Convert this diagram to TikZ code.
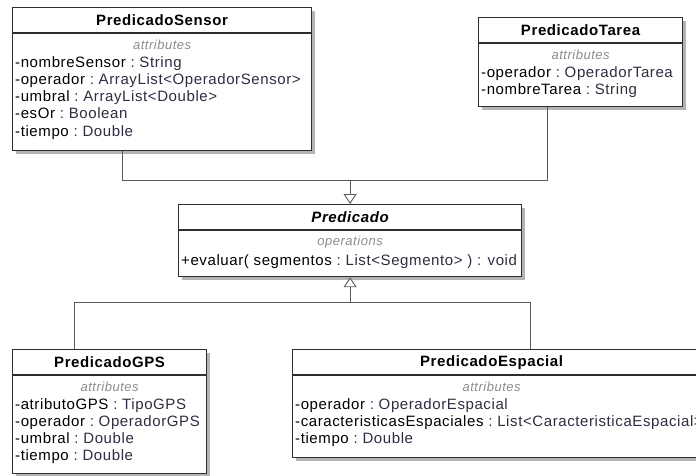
\documentclass[tikz,border=0pt]{standalone}
\usepackage{fontspec}
\setmainfont{Liberation Sans}[LetterSpace=4]
\usetikzlibrary{arrows.meta,shadows}
\definecolor{boxline}{HTML}{2E2E2E}
\definecolor{linkline}{HTML}{5A5A5A}
\definecolor{typec}{HTML}{2E2E42}
\definecolor{stereo}{HTML}{8C8C8C}
\definecolor{shadowc}{HTML}{B4B4B4}

% attribute: name, then " : type" in the type colour
\newcommand{\attr}[2]{#1\ \textcolor{typec}{:\ #2}}

\tikzset{
  classbox/.style={draw=boxline, line width=1.2pt, fill=white, rectangle,
    inner sep=0pt, anchor=north west,
    drop shadow={shadow xshift=3pt, shadow yshift=-3pt, fill=shadowc, opacity=1}},
  divider/.style={draw=boxline, line width=1.1pt},
  classname/.style={font=\fontsize{15}{17}\selectfont\bfseries, inner sep=0pt},
  absname/.style={font=\fontsize{15}{17}\selectfont\bfseries\itshape, inner sep=0pt},
  stereotype/.style={font=\fontsize{13}{15}\selectfont\itshape, text=stereo, inner sep=0pt},
  member/.style={font=\fontsize{15}{17}\selectfont, anchor=base west, inner sep=0pt},
  conn/.style={draw=linkline, line width=0.9pt},
  inherit/.style={draw=linkline, line width=0.9pt,
    -{Triangle[open, length=10pt, width=13pt, fill=white]}},
}

\begin{document}
\begin{tikzpicture}[x=1pt, y=-1pt]
\useasboundingbox (0,0) rectangle (696,476);
\clip (0,0) rectangle (696,476);

% ---------- PredicadoSensor ----------
\node[classbox, minimum width=299pt, minimum height=143pt] (sensor) at (12,7) {};
\draw[divider] ([yshift=-26pt]sensor.north west) -- ([yshift=-26pt]sensor.north east);
\node[classname] (sensorT) at ([yshift=-13.5pt]sensor.north) {PredicadoSensor};
\node[stereotype] (sensorS) at ([yshift=-38pt]sensor.north) {attributes};
\node[member] (s1) at ([xshift=3pt,yshift=-61pt]sensor.north west) {\attr{-nombreSensor}{String}};
\node[member] (s2) at ([xshift=3pt,yshift=-78pt]sensor.north west) {\attr{-operador}{ArrayList<OperadorSensor>}};
\node[member] (s3) at ([xshift=3pt,yshift=-95pt]sensor.north west) {\attr{-umbral}{ArrayList<Double>}};
\node[member] (s4) at ([xshift=3pt,yshift=-112pt]sensor.north west) {\attr{-esOr}{Boolean}};
\node[member] (s5) at ([xshift=3pt,yshift=-129pt]sensor.north west) {\attr{-tiempo}{Double}};

% ---------- PredicadoTarea ----------
\node[classbox, minimum width=204pt, minimum height=89pt] (tarea) at (478,17) {};
\draw[divider] ([yshift=-26pt]tarea.north west) -- ([yshift=-26pt]tarea.north east);
\node[classname] (tareaT) at ([yshift=-13.5pt]tarea.north) {PredicadoTarea};
\node[stereotype] (tareaS) at ([yshift=-38pt]tarea.north) {attributes};
\node[member] (t1) at ([xshift=3pt,yshift=-61pt]tarea.north west) {\attr{-operador}{OperadorTarea}};
\node[member] (t2) at ([xshift=3pt,yshift=-78pt]tarea.north west) {\attr{-nombreTarea}{String}};

% ---------- Predicado (abstract) ----------
\node[classbox, minimum width=343pt, minimum height=72pt] (pred) at (178,204) {};
\draw[divider] ([yshift=-26pt]pred.north west) -- ([yshift=-26pt]pred.north east);
\node[absname] (predT) at ([yshift=-13.5pt]pred.north) {Predicado};
\node[stereotype] (predS) at ([yshift=-38pt]pred.north) {operations};
\node[member] (p1) at ([xshift=3pt,yshift=-61pt]pred.north west)
  {+evaluar( segmentos\ \textcolor{typec}{:\ List<Segmento> ) : void}};

% ---------- PredicadoGPS ----------
\node[classbox, minimum width=194pt, minimum height=124pt] (gps) at (12,349) {};
\draw[divider] ([yshift=-26pt]gps.north west) -- ([yshift=-26pt]gps.north east);
\node[classname] (gpsT) at ([yshift=-13.5pt]gps.north) {PredicadoGPS};
\node[stereotype] (gpsS) at ([yshift=-38pt]gps.north) {attributes};
\node[member] (g1) at ([xshift=3pt,yshift=-60pt]gps.north west) {\attr{-atributoGPS}{TipoGPS}};
\node[member] (g2) at ([xshift=3pt,yshift=-77pt]gps.north west) {\attr{-operador}{OperadorGPS}};
\node[member] (g3) at ([xshift=3pt,yshift=-94pt]gps.north west) {\attr{-umbral}{Double}};
\node[member] (g4) at ([xshift=3pt,yshift=-111pt]gps.north west) {\attr{-tiempo}{Double}};

% ---------- PredicadoEspacial (runs past the right edge) ----------
\node[classbox, minimum width=418pt, minimum height=108pt] (esp) at (292,349) {};
\draw[divider] ([yshift=-26pt]esp.north west) -- ([yshift=-26pt]esp.north east);
\node[classname] (espT) at ([yshift=-13.5pt,xshift=-10pt]esp.north) {PredicadoEspacial};
\node[stereotype] (espS) at ([yshift=-38pt,xshift=-10pt]esp.north) {attributes};
\node[member] (e1) at ([xshift=3pt,yshift=-60pt]esp.north west) {\attr{-operador}{OperadorEspacial}};
\node[member] (e2) at ([xshift=3pt,yshift=-77pt]esp.north west) {\attr{-caracteristicasEspaciales}{List<CaracteristicaEspacial>}};
\node[member] (e3) at ([xshift=3pt,yshift=-94pt]esp.north west) {\attr{-tiempo}{Double}};

% ---------- generalisation links ----------
\coordinate (jtop) at ([yshift=24pt]pred.north);
\coordinate (jbot) at ([yshift=-25pt]pred.south);
\draw[conn] ([xshift=-40pt]sensor.south) |- (jtop);
\draw[conn] ([xshift=-33pt]tarea.south) |- (jtop);
\draw[inherit] (jtop) -- (pred.north);
\draw[conn] ([xshift=-35pt]gps.north) |- (jbot);
\draw[conn] ([xshift=29pt]esp.north) |- (jbot);
\draw[inherit] (jbot) -- (pred.south);
\end{tikzpicture}
\end{document}
